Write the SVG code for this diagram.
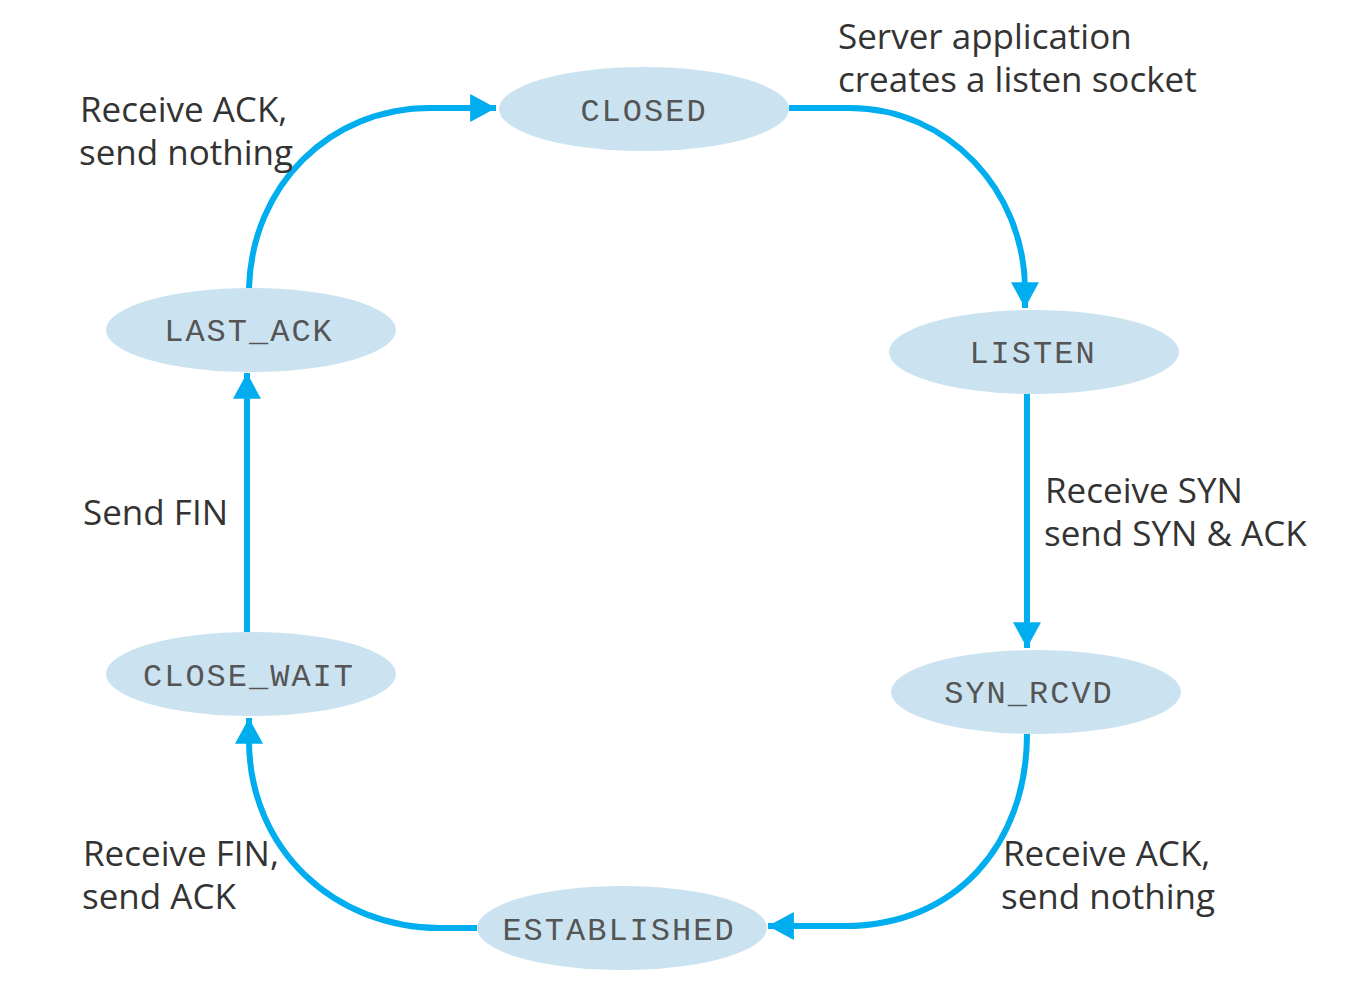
<svg xmlns="http://www.w3.org/2000/svg" width="1360" height="990" viewBox="0 0 1360 990">
<defs>
<style>
.node ellipse{fill:#cbe3f0;}
.node text{font-family:"Liberation Mono","Courier New",monospace;font-size:32px;fill:#555;text-anchor:middle;letter-spacing:2px;}
.lbl{font-family:"Open Sans","Noto Sans",sans-serif;font-size:35px;fill:#333;}
.edge{fill:none;stroke:#00aeef;stroke-width:6;}
</style>
<marker id="ah" markerUnits="userSpaceOnUse" markerWidth="26" markerHeight="28" viewBox="0 0 24 26" refX="24" refY="13" orient="auto">
<path d="M0,0 L24,13 L0,26 Z" fill="#00aeef"/>
</marker>
</defs>
<rect width="1360" height="990" fill="#fff"/>
<g id="connectors">
<path class="edge" marker-end="url(#ah)" d="M789,108 L850,108 C947,108 1025,190 1025,290 L1025,308"/>
<path class="edge" marker-end="url(#ah)" d="M1027,394 L1027,648"/>
<path class="edge" marker-end="url(#ah)" d="M1027,734 C1027,845 955,926 845,926 L768,926"/>
<path class="edge" marker-end="url(#ah)" d="M477,928 L440,928 C335,928 249,850 249,740 L249,718"/>
<path class="edge" marker-end="url(#ah)" d="M247,632 L247,373"/>
<path class="edge" marker-end="url(#ah)" d="M249,288 C252,185 330,108 430,108 L496,108"/>
</g>
<g id="n-closed" class="node"><ellipse cx="644" cy="109" rx="145" ry="42"/><text x="644" y="121">CLOSED</text></g>
<g id="n-listen" class="node"><ellipse cx="1034" cy="352" rx="145" ry="42"/><text x="1033" y="363">LISTEN</text></g>
<g id="n-synrcvd" class="node"><ellipse cx="1036" cy="692" rx="145" ry="42"/><text x="1029" y="703">SYN_RCVD</text></g>
<g id="n-established" class="node"><ellipse cx="622" cy="928" rx="145" ry="42"/><text x="619" y="940">ESTABLISHED</text></g>
<g id="n-closewait" class="node"><ellipse cx="251" cy="674" rx="145" ry="42"/><text x="249" y="686">CLOSE_WAIT</text></g>
<g id="n-lastack" class="node"><ellipse cx="251" cy="330" rx="145" ry="42"/><text x="249" y="341">LAST_ACK</text></g>
<g id="labels">
<text class="lbl" x="838" y="49">Server application</text>
<text class="lbl" x="838" y="92">creates a listen socket</text>
<text class="lbl" x="80" y="122">Receive ACK,</text>
<text class="lbl" x="79" y="165">send nothing</text>
<text class="lbl" x="1045" y="503">Receive SYN</text>
<text class="lbl" x="1044" y="546">send SYN &amp; ACK</text>
<text class="lbl" x="83" y="525">Send FIN</text>
<text class="lbl" x="83" y="866">Receive FIN,</text>
<text class="lbl" x="82" y="909">send ACK</text>
<text class="lbl" x="1003" y="866">Receive ACK,</text>
<text class="lbl" x="1001" y="909">send nothing</text>
</g>
</svg>
